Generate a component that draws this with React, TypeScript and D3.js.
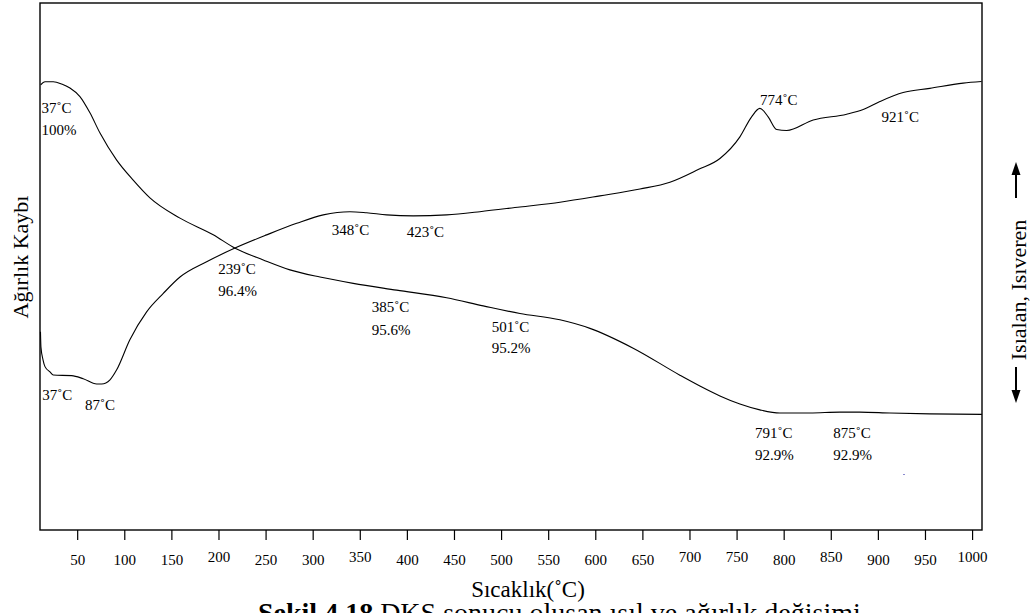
import React from "react";
import * as d3 from "d3";

// ---- Data ----
// TGA curve: temperature (°C) and weight (%)
const tgaTemp = [10.7, 15.3, 24.1, 33.0, 41.8, 52.4, 63.0, 73.7, 91.4, 108.7, 126.7, 158.6, 193.9, 217.2, 247.0, 275.3, 307.2, 342.5, 388.6, 441.7, 480.5, 519.5, 561.9, 593.8, 639.7, 689.3, 710.5, 731.8, 753.0, 774.2, 795.4, 827.3, 859.1, 880.3, 912.2, 954.6, 1009.9];
const tgaWeight = [100.19, 100.26, 100.26, 100.21, 100.12, 99.93, 99.57, 99.12, 98.52, 98.08, 97.68, 97.23, 96.86, 96.56, 96.30, 96.08, 95.92, 95.78, 95.63, 95.46, 95.28, 95.11, 94.97, 94.78, 94.34, 93.74, 93.50, 93.28, 93.10, 92.97, 92.90, 92.90, 92.92, 92.92, 92.90, 92.88, 92.87];

// DSC curve: temperature (°C) and heat flow (arbitrary units, endo down / exo up)
const dscTemp = [10.5, 11.0, 13.2, 15.3, 20.6, 24.1, 43.6, 55.9, 70.2, 75.5, 84.3, 91.4, 105.4, 123.2, 140.9, 158.6, 186.9, 217.0, 250.6, 282.5, 310.7, 339.0, 356.8, 378.0, 406.2, 441.7, 477.0, 519.5, 562.0, 604.4, 646.9, 678.7, 708.7, 731.8, 753.0, 765.4, 774.2, 783.0, 792.0, 802.6, 830.8, 866.3, 883.9, 901.6, 926.3, 954.6, 990.0, 1009.5];
const dscFlow = [37.6, 34.7, 32.3, 31.0, 30.0, 29.4, 29.3, 28.7, 27.7, 27.7, 28.5, 30.4, 36.1, 41.4, 44.9, 48.0, 50.9, 53.5, 56.0, 58.2, 59.8, 60.4, 60.2, 59.8, 59.6, 59.8, 60.4, 61.3, 62.2, 63.4, 64.7, 66.0, 68.4, 70.5, 74.6, 78.4, 80.0, 78.4, 76.0, 75.8, 77.8, 78.9, 79.8, 81.3, 83.0, 83.8, 84.8, 85.1];

// X axis ticks
const xTicks = [50, 100, 150, 200, 250, 300, 350, 400, 450, 500, 550, 600, 650, 700, 750, 800, 850, 900, 950, 1000];
const raisedTickLabels = [200, 350, 700, 750, 850, 1000];

// Annotations (text, temperature position, heat-flow-unit position)
const annText = ["37˚C", "100%", "348˚C", "423˚C", "239˚C", "96.4%", "385˚C", "95.6%", "501˚C", "95.2%", "37˚C", "87˚C", "791˚C", "92.9%", "875˚C", "92.9%", "774˚C", "921˚C"];
const annTemp = [11.6, 11.6, 319.6, 399.2, 199.3, 199.3, 362.1, 362.1, 489.5, 489.5, 12.4, 57.7, 769.0, 769.0, 852.0, 852.0, 774.4, 903.4];
const annFlow = [79.1, 75.0, 56.0, 55.6, 48.6, 44.4, 41.4, 37.0, 37.6, 33.6, 24.7, 22.8, 17.5, 13.3, 17.5, 13.3, 80.7, 77.4];

const W = 1030;
const H = 613;
const FONT = "'Liberation Serif', 'Times New Roman', serif";

export default function App() {
  const left = 40, right = 982, top = 3, bottom = 530;
  const x = d3.scaleLinear().domain([10, 1010]).range([left, right]);
  const yTga = d3.scaleLinear().domain([90.3, 102.01]).range([bottom, top]);
  const yDsc = d3.scaleLinear().domain([0, 100]).range([bottom, top]);

  const tgaPts: [number, number][] = tgaTemp.map((t, i) => [t, tgaWeight[i]]);
  const dscPts: [number, number][] = dscTemp.map((t, i) => [t, dscFlow[i]]);

  const tgaLine = d3.line<[number, number]>()
    .x((d) => x(d[0]))
    .y((d) => yTga(d[1]))
    .curve(d3.curveMonotoneX);
  const dscLine = d3.line<[number, number]>()
    .x((d) => x(d[0]))
    .y((d) => yDsc(d[1]))
    .curve(d3.curveMonotoneX);

  return (
    <svg
      width={W}
      height={H}
      style={{ position: "absolute", left: 0, top: 0, background: "#fff" }}
      fontFamily={FONT}
    >
      <rect x={0} y={0} width={W} height={H} fill="#fff" />
      {/* frame */}
      <rect x={left} y={top} width={right - left} height={bottom - top} fill="none" stroke="#000" strokeWidth={1.4} />

      {/* curves */}
      <path d={tgaLine(tgaPts) || ""} fill="none" stroke="#000" strokeWidth={1.1} />
      <path d={dscLine(dscPts) || ""} fill="none" stroke="#000" strokeWidth={1.1} />

      {/* x ticks */}
      {xTicks.map((t) => (
        <g key={t}>
          <line x1={x(t)} x2={x(t)} y1={bottom} y2={bottom + 10} stroke="#000" strokeWidth={1.2} />
          <text
            x={x(t)}
            y={raisedTickLabels.includes(t) ? 562 : 565}
            textAnchor="middle"
            fontSize={15}
            fill="#000"
          >
            {t}
          </text>
        </g>
      ))}

      {/* annotations */}
      {annText.map((s, i) => (
        <text key={i} x={x(annTemp[i])} y={yDsc(annFlow[i])} fontSize={15} fill="#000">
          {s}
        </text>
      ))}

      {/* stray mark */}
      <rect x={903} y={474} width={2} height={1} fill="#8a8ad0" />

      {/* axis titles */}
      <text x={528} y={597} textAnchor="middle" fontSize={23} fill="#000">
        Sıcaklık(˚C)
      </text>
      <text transform="translate(28,257) rotate(-90)" textAnchor="middle" fontSize={22} fill="#000">
        Ağırlık Kaybı
      </text>
      <text transform="translate(1026,290) rotate(-90)" textAnchor="middle" fontSize={22} fill="#000">
        Isıalan, Isıveren
      </text>

      {/* arrows */}
      <line x1={1016} x2={1016} y1={198} y2={172} stroke="#000" strokeWidth={2} />
      <path d="M1011.5,175 L1016,162 L1020.5,175 Z" fill="#000" />
      <line x1={1016} x2={1016} y1={367} y2={393} stroke="#000" strokeWidth={2} />
      <path d="M1011.5,390 L1016,403 L1020.5,390 Z" fill="#000" />

      {/* caption (cut off at the bottom edge) */}
      <text x={258} y={622} fontSize={28} fill="#000">
        <tspan fontWeight="bold">Şekil 4.18</tspan>
        <tspan> DKS sonucu oluşan ısıl ve ağırlık değişimi</tspan>
      </text>
    </svg>
  );
}
